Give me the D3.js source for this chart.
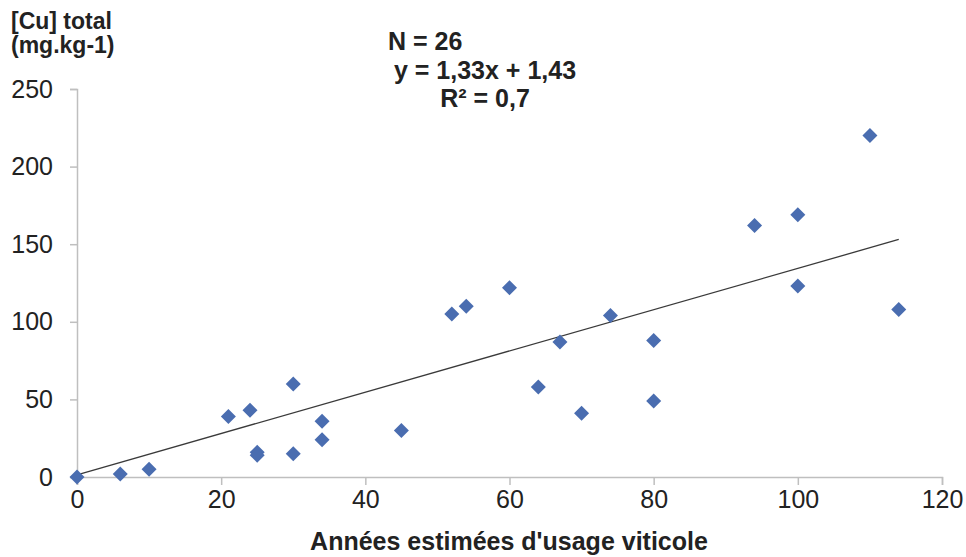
<!DOCTYPE html>
<html>
<head>
<meta charset="utf-8">
<script src="https://cdn.jsdelivr.net/npm/d3@7"></script>
<style>
  html, body { margin: 0; padding: 0; background: #fff; }
  svg { display: block; font-family: "Liberation Sans", Arial, sans-serif; }
</style>
</head>
<body>
<svg id="chart" width="966" height="557"></svg>
<script>
// ---- data ----
const years = [0, 6, 10, 21, 24, 25, 25, 30, 30, 34, 34, 45, 52, 54, 60, 64, 67, 70, 74, 80, 80, 94, 100, 100, 110, 114];
const cuTotal = [0, 2, 5, 39, 43, 16, 14, 60, 15, 36, 24, 30, 105, 110, 122, 58, 87, 41, 104, 88, 49, 162, 169, 123, 220, 108];
const xTicks = [0, 20, 40, 60, 80, 100, 120];
const yTicks = [0, 50, 100, 150, 200, 250];
const slope = 1.33, intercept = 1.43;
const statLines = ["N = 26", "y = 1,33x + 1,43", "R² = 0,7"];
const yTitle = ["[Cu] total", "(mg.kg-1)"];
const xTitle = "Années estimées d'usage viticole";

// ---- chart ----
const svg = d3.select("#chart");
const x = d3.scaleLinear().domain([0, 120]).range([77, 942]);
const y = d3.scaleLinear().domain([0, 250]).range([477, 89]);
const axisColor = "#bfbfbf";
const textColor = "#222222";
const font = "Liberation Sans, Arial, sans-serif";

// x axis
const gx = svg.append("g").attr("transform", `translate(0,${y(0)})`)
  .call(d3.axisBottom(x).tickValues(xTicks).tickSize(8).tickPadding(5).tickFormat(d3.format("d")));
gx.select(".domain").attr("stroke", axisColor).attr("stroke-width", 1.5);
gx.selectAll(".tick line").attr("stroke", axisColor).attr("stroke-width", 1.5);
gx.selectAll(".tick text").attr("fill", textColor).attr("font-size", 25).attr("font-family", font);

// y axis
const gy = svg.append("g").attr("transform", `translate(${x(0)},0)`)
  .call(d3.axisLeft(y).tickValues(yTicks).tickSize(7).tickPadding(17).tickFormat(d3.format("d")));
gy.select(".domain").attr("stroke", axisColor).attr("stroke-width", 1.5);
gy.selectAll(".tick line").attr("stroke", axisColor).attr("stroke-width", 1.5);
gy.selectAll(".tick text").attr("fill", textColor).attr("font-size", 25).attr("font-family", font);

// trend line
const xMin = d3.min(years), xMax = d3.max(years);
svg.append("line")
  .attr("x1", x(xMin)).attr("y1", y(slope * xMin + intercept))
  .attr("x2", x(xMax)).attr("y2", y(slope * xMax + intercept))
  .attr("stroke", "#3a3a3a").attr("stroke-width", 1.3);

// markers
const pts = years.map((v, i) => ({ x: v, y: cuTotal[i] }));
const r = 7.5;
svg.append("g").selectAll("path").data(pts).join("path")
  .attr("d", d => {
    const cx = x(d.x), cy = y(d.y);
    return `M${cx},${cy - r}L${cx + r},${cy}L${cx},${cy + r}L${cx - r},${cy}Z`;
  })
  .attr("fill", "#4a6db0");

// y title
svg.append("g").selectAll("text").data(yTitle).join("text")
  .attr("x", 11).attr("y", (d, i) => 29 + i * 24)
  .attr("font-size", 23).attr("font-weight", "bold").attr("fill", textColor)
  .text(d => d);

// stats
const statPos = [{ x: 388, y: 50, a: "start" }, { x: 485, y: 79, a: "middle" }, { x: 485, y: 107, a: "middle" }];
svg.append("g").selectAll("text").data(statLines).join("text")
  .attr("x", (d, i) => statPos[i].x).attr("y", (d, i) => statPos[i].y)
  .attr("text-anchor", (d, i) => statPos[i].a)
  .attr("font-size", 25).attr("font-weight", "bold").attr("fill", textColor)
  .text(d => d);

// x title
svg.append("text")
  .attr("x", 509).attr("y", 550).attr("text-anchor", "middle")
  .attr("font-size", 25).attr("font-weight", "bold").attr("fill", textColor)
  .text(xTitle);
</script>
</body>
</html>
